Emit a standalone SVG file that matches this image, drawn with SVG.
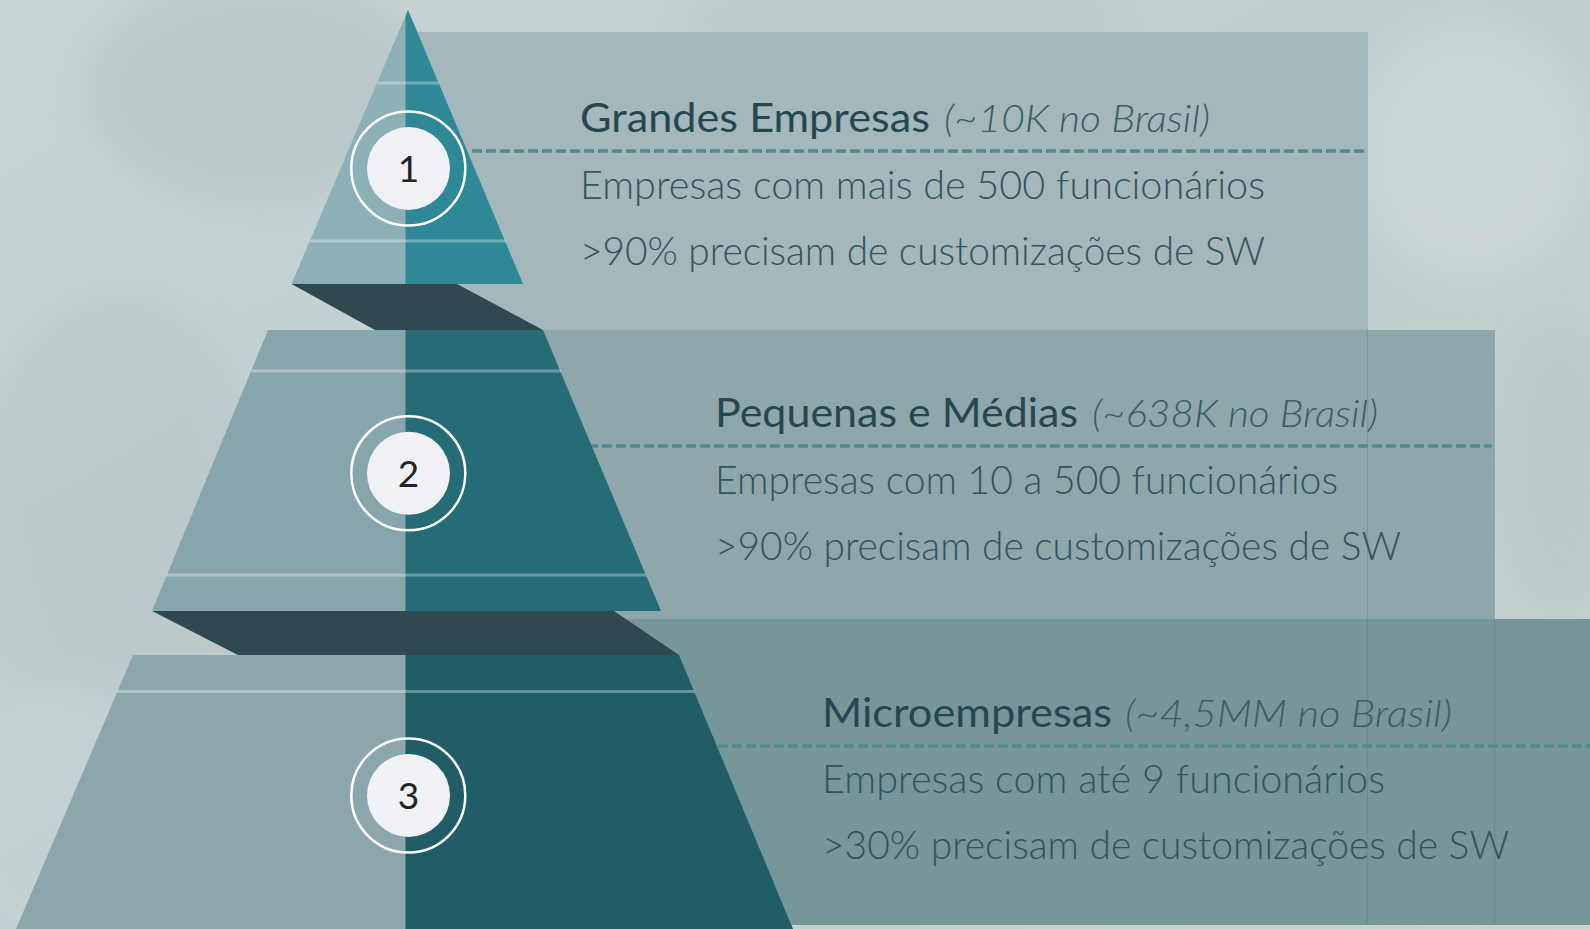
<svg xmlns="http://www.w3.org/2000/svg" width="1590" height="929" viewBox="0 0 1590 929">
  <style>
    .t { font-family: Lato, "Open Sans", "Liberation Sans", sans-serif; font-size: 41px; font-weight: 400; fill: #27474f; }
    .i { font-family: Lato, "Open Sans", "Liberation Sans", sans-serif; font-size: 38px; font-weight: 300; font-style: italic; fill: #3b5d65; }
    .b { font-family: Lato, "Open Sans", "Liberation Sans", sans-serif; font-size: 38.5px; font-weight: 300; fill: #33545c; }
    .n { font-family: Lato, "Open Sans", "Liberation Sans", sans-serif; font-size: 37px; font-weight: 400; fill: #222426; text-anchor: middle; }
    .sep { stroke: #4f8a93; stroke-width: 3.5; stroke-dasharray: 10 4; fill: none; }
    .hl { stroke: #ffffff; stroke-opacity: 0.32; stroke-width: 3; }
    .band { fill: #30484f; }
    .ring { fill: none; stroke: #ffffff; stroke-width: 2.5; }
    .disk { fill: #f0f1f5; }
    .edge { stroke: #3f6a70; stroke-opacity: 0.22; stroke-width: 1.2; }
  </style>
  <defs>
    <linearGradient id="bg" x1="0" y1="0" x2="1" y2="1">
      <stop offset="0" stop-color="#c8d5d5"/>
      <stop offset="0.5" stop-color="#c1cdce"/>
      <stop offset="1" stop-color="#c9d3d4"/>
    </linearGradient>
    <filter id="blur" x="-50%" y="-50%" width="200%" height="200%">
      <feGaussianBlur stdDeviation="18"/>
    </filter>
    <clipPath id="rightHalf">
      <rect x="405.5" y="0" width="1200" height="929"/>
    </clipPath>
  </defs>

  <g id="background">
    <rect x="0" y="0" width="1590" height="929" fill="url(#bg)"/>
    <g filter="url(#blur)" opacity="0.55">
      <ellipse cx="260" cy="90" rx="170" ry="110" fill="#b2bec0"/>
      <ellipse cx="120" cy="520" rx="140" ry="220" fill="#b7c3c4"/>
      <ellipse cx="60" cy="820" rx="120" ry="140" fill="#c9d4d5"/>
      <ellipse cx="1470" cy="150" rx="120" ry="130" fill="#d2dcdc"/>
      <ellipse cx="1560" cy="470" rx="60" ry="140" fill="#b5c1c2"/>
      <ellipse cx="900" cy="20" rx="220" ry="40" fill="#b9c5c6"/>
    </g>
  </g>

  <g id="panels">
    <rect id="panel-1" x="405" y="32" width="963" height="298" fill="#a4b7ba"/>
    <rect id="panel-2" x="405" y="330" width="1090" height="289" fill="#8ea7aa"/>
    <rect id="panel-3" x="405" y="619" width="1185" height="306" fill="#77969a"/>
    <line class="edge" x1="1367.5" y1="330" x2="1367.5" y2="925"/>
    <line class="edge" x1="1494.5" y1="619" x2="1494.5" y2="925"/>
  </g>

  <g id="separators">
    <line class="sep" x1="472" y1="151" x2="1366" y2="151"/>
    <line class="sep" x1="560" y1="446" x2="1492" y2="446"/>
    <line class="sep" x1="690" y1="746" x2="1590" y2="746"/>
  </g>

  <g id="pyramid">
    <g id="tier-1">
      <polygon points="408,10 523,284 291.5,284" fill="#8bb0b6"/>
      <polygon points="408,10 523,284 291.5,284" fill="#2e8896" clip-path="url(#rightHalf)"/>
      <line class="hl" x1="377.5" y1="83" x2="439" y2="83"/>
      <line class="hl" x1="310" y1="241" x2="506" y2="241"/>
      <polygon class="band" points="291.5,284 457,284 543,330 375,330"/>
      <circle class="ring" cx="408.3" cy="168.5" r="57"/>
      <circle class="disk" cx="408.5" cy="168.5" r="41.5"/>
      <text class="n" x="408.5" y="181.5">1</text>
    </g>
    <g id="tier-2">
      <polygon points="268,330 543,330 661,611 152,611" fill="#87a6ab"/>
      <polygon points="268,330 543,330 661,611 152,611" fill="#256c77" clip-path="url(#rightHalf)"/>
      <line class="hl" x1="252" y1="371" x2="561" y2="371"/>
      <line class="hl" x1="166" y1="575" x2="646" y2="575"/>
      <polygon class="band" points="152,611 614,611 679,655 238,655"/>
      <circle class="ring" cx="408.3" cy="473.3" r="57"/>
      <circle class="disk" cx="408.5" cy="473.3" r="41.5"/>
      <text class="n" x="408.5" y="486.5">2</text>
    </g>
    <g id="tier-3">
      <polygon points="133,655 679,655 793,929 16,929" fill="#8ca7ab"/>
      <polygon points="133,655 679,655 793,929 16,929" fill="#205d66" clip-path="url(#rightHalf)"/>
      <line class="hl" x1="117" y1="691.5" x2="694.5" y2="691.5"/>
      <circle class="ring" cx="408.3" cy="795.5" r="57"/>
      <circle class="disk" cx="408.5" cy="795.5" r="41.5"/>
      <text class="n" x="408.5" y="808.5">3</text>
    </g>
  </g>

  <g id="labels">
    <g id="label-1">
      <text class="t" x="580" y="132" textLength="350" lengthAdjust="spacingAndGlyphs">Grandes Empresas</text>
      <text class="i" x="944" y="132" textLength="266" lengthAdjust="spacingAndGlyphs">(~10K no Brasil)</text>
      <text class="b" x="580" y="198.5" textLength="685" lengthAdjust="spacingAndGlyphs">Empresas com mais de 500 funcionários</text>
      <text class="b" x="580" y="264.5" textLength="685" lengthAdjust="spacingAndGlyphs">&gt;90% precisam de customizações de SW</text>
    </g>
    <g id="label-2">
      <text class="t" x="715" y="427" textLength="363" lengthAdjust="spacingAndGlyphs">Pequenas e Médias</text>
      <text class="i" x="1092" y="427" textLength="286" lengthAdjust="spacingAndGlyphs">(~638K no Brasil)</text>
      <text class="b" x="715" y="493.5" textLength="623" lengthAdjust="spacingAndGlyphs">Empresas com 10 a 500 funcionários</text>
      <text class="b" x="715" y="559.5" textLength="686" lengthAdjust="spacingAndGlyphs">&gt;90% precisam de customizações de SW</text>
    </g>
    <g id="label-3">
      <text class="t" x="822" y="727" textLength="290" lengthAdjust="spacingAndGlyphs">Microempresas</text>
      <text class="i" x="1125" y="727" textLength="327" lengthAdjust="spacingAndGlyphs">(~4,5MM no Brasil)</text>
      <text class="b" x="822" y="792.5" textLength="563" lengthAdjust="spacingAndGlyphs">Empresas com até 9 funcionários</text>
      <text class="b" x="822" y="859" textLength="687" lengthAdjust="spacingAndGlyphs">&gt;30% precisam de customizações de SW</text>
    </g>
  </g>
</svg>
